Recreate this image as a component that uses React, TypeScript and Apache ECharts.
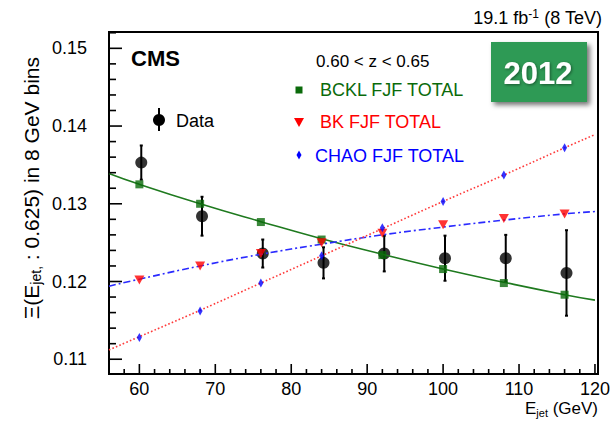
import React, { useEffect, useRef } from "react";
import * as echarts from "echarts";

// Jet energy bin centres (8 GeV bins from 56 to 120 GeV)
const binCenters = [60, 68, 76, 84, 92, 100, 108, 116];
// Data points are drawn slightly shifted to the right of the bin centre
const dataX = [60.25, 68.25, 76.25, 84.25, 92.25, 100.25, 108.25, 116.25];
const dataY = [0.1353, 0.1284, 0.1236, 0.1224, 0.1236, 0.123, 0.123, 0.1211];
const dataErr = [0.0022, 0.0025, 0.0018, 0.002, 0.0023, 0.0029, 0.003, 0.0055];

// Model predictions
const bcklY = [0.1325, 0.13, 0.12765, 0.1254, 0.1234, 0.1216, 0.1198, 0.1183];
const bkY = [0.1202, 0.122, 0.1236, 0.125, 0.1262, 0.1273, 0.1281, 0.1287];
const chaoY = [0.1128, 0.1162, 0.1198, 0.1233, 0.1269, 0.1303, 0.1337, 0.1372];

// Fitted curves, sampled across the full energy range
const fitX = [56, 60, 68, 76, 84, 92, 100, 108, 116, 120];
const fitGreen = [0.1339, 0.1325, 0.13, 0.1277, 0.1255, 0.1235, 0.1216, 0.1199, 0.1183, 0.1176];
const fitBlue = [0.1194, 0.1203, 0.122, 0.1235, 0.1248, 0.126, 0.127, 0.1279, 0.1287, 0.129];
const fitRed = [0.1112, 0.1129, 0.1163, 0.1198, 0.1233, 0.1268, 0.1303, 0.1337, 0.1372, 0.1389];

// Axis ranges and ticks
const X_MIN = 56;
const X_MAX = 120.4;
const Y_MIN = 0.1081;
const Y_MAX = 0.1521;
const xMajor = [60, 70, 80, 90, 100, 110, 120];
const xMinor = [56, 58, 62, 64, 66, 68, 72, 74, 76, 78, 82, 84, 86, 88, 92, 94, 96, 98, 102, 104, 106, 108, 112, 114, 116, 118];
const yMajor = [0.11, 0.12, 0.13, 0.14, 0.15];
const yMinor = [0.112, 0.114, 0.116, 0.118, 0.122, 0.124, 0.126, 0.128, 0.132, 0.134, 0.136, 0.138, 0.142, 0.144, 0.146, 0.148, 0.152];

const FONT = "'Liberation Sans', Arial, Helvetica, sans-serif";
const GREEN = "#0a6a0a";
const GREEN_LINE = "#1f7a1f";
const RED = "#ff0000";
const BLUE = "#0000ff";

const pairs = (xs: number[], ys: number[]) => xs.map((x, i) => [x, ys[i]]);

export default function App() {
  const ref = useRef<HTMLDivElement>(null);

  useEffect(() => {
    if (!ref.current) return;
    const chart = echarts.init(ref.current, null, { renderer: "svg" });

    const graphics: any[] = [
      // Luminosity / energy label
      {
        type: "text",
        x: 602,
        y: 18,
        style: {
          text: "19.1 fb{sup|-1} (8 TeV)",
          align: "right",
          verticalAlign: "middle",
          fontSize: 18,
          fontFamily: FONT,
          fill: "#000",
          rich: { sup: { fontSize: 12, verticalAlign: "top", padding: [0, 0, 8, 0] } },
        },
      },
      {
        type: "text",
        x: 131,
        y: 58,
        style: { text: "CMS", fontSize: 22, fontWeight: "bold", fontFamily: FONT, fill: "#000", verticalAlign: "middle" },
      },
      {
        type: "text",
        x: 316,
        y: 61,
        style: { text: "0.60 < z < 0.65", fontSize: 17, fontFamily: FONT, fill: "#000", verticalAlign: "middle" },
      },
      // Data legend entry
      { type: "line", shape: { x1: 159, y1: 108, x2: 159, y2: 131 }, style: { stroke: "#000", lineWidth: 2 } },
      { type: "circle", shape: { cx: 159, cy: 120, r: 6 }, style: { fill: "#000" } },
      {
        type: "text",
        x: 176,
        y: 121,
        style: { text: "Data", fontSize: 18, fontFamily: FONT, fill: "#000", verticalAlign: "middle" },
      },
      // Model legend entries
      { type: "rect", shape: { x: 295.5, y: 86.5, width: 7, height: 7 }, style: { fill: GREEN } },
      {
        type: "text",
        x: 320,
        y: 90,
        style: { text: "BCKL FJF TOTAL", fontSize: 18, fontFamily: FONT, fill: GREEN, verticalAlign: "middle" },
      },
      { type: "polygon", shape: { points: [[294, 118], [304, 118], [299, 127]] }, style: { fill: RED } },
      {
        type: "text",
        x: 320,
        y: 122,
        style: { text: "BK FJF TOTAL", fontSize: 18, fontFamily: FONT, fill: RED, verticalAlign: "middle" },
      },
      {
        type: "polygon",
        shape: { points: [[299, 150.5], [301.5, 155], [299, 159.5], [296.5, 155]] },
        style: { fill: BLUE },
      },
      {
        type: "text",
        x: 315,
        y: 156,
        style: { text: "CHAO FJF TOTAL", fontSize: 18, fontFamily: FONT, fill: BLUE, verticalAlign: "middle" },
      },
      // Year badge
      {
        type: "rect",
        shape: { x: 491, y: 42, width: 96, height: 60 },
        style: {
          fill: "#2e9a55",
          shadowBlur: 5,
          shadowColor: "rgba(0,0,0,0.55)",
          shadowOffsetX: 3,
          shadowOffsetY: 3,
        },
      },
      {
        type: "text",
        x: 538,
        y: 73,
        style: {
          text: "2012",
          fontSize: 31,
          fontWeight: "bold",
          fontFamily: FONT,
          fill: "#ffffff",
          align: "center",
          verticalAlign: "middle",
          textShadowColor: "rgba(0,0,0,0.45)",
          textShadowBlur: 3,
          textShadowOffsetX: 1,
          textShadowOffsetY: 1,
        },
      },
      // Axis titles
      {
        type: "text",
        x: 598,
        y: 408,
        style: {
          text: "E{sub|jet} (GeV)",
          align: "right",
          verticalAlign: "middle",
          fontSize: 17,
          fontFamily: FONT,
          fill: "#000",
          rich: { sub: { fontSize: 11, padding: [10, 0, 0, 0] } },
        },
      },
      {
        type: "text",
        x: 31,
        y: 57,
        rotation: Math.PI / 2,
        style: {
          text: "Ξ(E{sub|jet,} : 0.625) in 8 GeV bins",
          align: "right",
          verticalAlign: "middle",
          fontSize: 21,
          fontFamily: FONT,
          fill: "#000",
          rich: { sub: { fontSize: 14, padding: [10, 0, 0, 0] } },
        },
      },
    ];

    const option: any = {
      animation: false,
      backgroundColor: "#ffffff",
      grid: {
        left: 109,
        right: 17,
        top: 32,
        bottom: 54,
        show: true,
        borderColor: "#000",
        borderWidth: 2,
        backgroundColor: "transparent",
      },
      xAxis: {
        type: "value",
        min: X_MIN,
        max: X_MAX,
        splitLine: { show: false },
        axisLine: { show: false },
        axisTick: { show: false },
        axisLabel: { show: true, customValues: xMajor, margin: 6, fontSize: 18, color: "#000", fontFamily: FONT },
      },
      yAxis: {
        type: "value",
        min: Y_MIN,
        max: Y_MAX,
        splitLine: { show: false },
        axisLine: { show: false },
        axisTick: { show: false },
        axisLabel: {
          show: true,
          customValues: yMajor,
          margin: 22,
          fontSize: 18,
          color: "#000",
          fontFamily: FONT,
          formatter: (v: number) => v.toFixed(2),
        },
      },
      series: [
        // Data error bars
        {
          type: "custom",
          z: 2,
          encode: { x: 0, y: [1, 2] },
          data: dataX.map((x, i) => [x, dataY[i] - dataErr[i], dataY[i] + dataErr[i]]),
          renderItem: (_p: any, api: any) => {
            const x = api.value(0);
            const lo = api.coord([x, api.value(1)]);
            const hi = api.coord([x, api.value(2)]);
            const st = { stroke: "#000", lineWidth: 2 };
            return {
              type: "group",
              children: [
                { type: "line", shape: { x1: lo[0], y1: lo[1], x2: hi[0], y2: hi[1] }, style: st },
                { type: "line", shape: { x1: lo[0] - 1.5, y1: lo[1], x2: lo[0] + 1.5, y2: lo[1] }, style: st },
                { type: "line", shape: { x1: hi[0] - 1.5, y1: hi[1], x2: hi[0] + 1.5, y2: hi[1] }, style: st },
              ],
            };
          },
        },
        {
          name: "Data",
          type: "scatter",
          z: 3,
          symbol: "circle",
          symbolSize: 12,
          itemStyle: { color: "#000" },
          data: pairs(dataX, dataY),
        },
        {
          type: "line",
          z: 4,
          smooth: true,
          showSymbol: false,
          lineStyle: { color: GREEN_LINE, width: 1.6 },
          data: pairs(fitX, fitGreen),
        },
        {
          type: "line",
          z: 4,
          smooth: true,
          showSymbol: false,
          lineStyle: { color: "#2a2aff", width: 1.6, type: [7, 3, 2, 3] },
          data: pairs(fitX, fitBlue),
        },
        {
          type: "line",
          z: 4,
          smooth: true,
          showSymbol: false,
          lineStyle: { color: "#ff3a3a", width: 1.6, type: [1.6, 2.2] },
          data: pairs(fitX, fitRed),
        },
        {
          name: "BCKL FJF TOTAL",
          type: "scatter",
          z: 5,
          symbol: "rect",
          symbolSize: 8,
          itemStyle: { color: GREEN },
          data: pairs(binCenters, bcklY),
        },
        {
          name: "BK FJF TOTAL",
          type: "scatter",
          z: 5,
          symbol: "triangle",
          symbolRotate: 180,
          symbolSize: [10, 9],
          itemStyle: { color: RED },
          data: pairs(binCenters, bkY),
        },
        {
          name: "CHAO FJF TOTAL",
          type: "scatter",
          z: 5,
          symbol: "diamond",
          symbolSize: [5, 9],
          itemStyle: { color: BLUE },
          data: pairs(binCenters, chaoY),
        },
      ],
      graphic: graphics,
    };

    chart.setOption(option);

    // Inward tick marks along the bottom and left frame edges, placed with
    // the axes' own scales once the grid has been laid out
    try {
      const ticks: any[] = [];
      const tickStyle = { stroke: "#000", lineWidth: 1.6 };
      const addX = (v: number, len: number) => {
        const p = chart.convertToPixel({ gridIndex: 0 }, [v, Y_MIN]) as number[];
        if (!p || !isFinite(p[0]) || !isFinite(p[1])) return;
        ticks.push({ type: "line", z: 50, shape: { x1: p[0], y1: p[1], x2: p[0], y2: p[1] - len }, style: tickStyle });
      };
      const addY = (v: number, len: number) => {
        const p = chart.convertToPixel({ gridIndex: 0 }, [X_MIN, v]) as number[];
        if (!p || !isFinite(p[0]) || !isFinite(p[1])) return;
        ticks.push({ type: "line", z: 50, shape: { x1: p[0], y1: p[1], x2: p[0] + len, y2: p[1] }, style: tickStyle });
      };
      xMajor.forEach((v) => addX(v, 10));
      xMinor.forEach((v) => addX(v, 5));
      yMajor.forEach((v) => addY(v, 13));
      yMinor.forEach((v) => addY(v, 7));
      if (ticks.length) {
        chart.setOption({ ...option, graphic: [...graphics, ...ticks] }, true);
      }
    } catch (e) {
      chart.setOption(option, true);
    }

    return () => chart.dispose();
  }, []);

  return (
    <div
      ref={ref}
      style={{ position: "fixed", left: 0, top: 0, width: 615, height: 428, background: "#fff" }}
    />
  );
}
